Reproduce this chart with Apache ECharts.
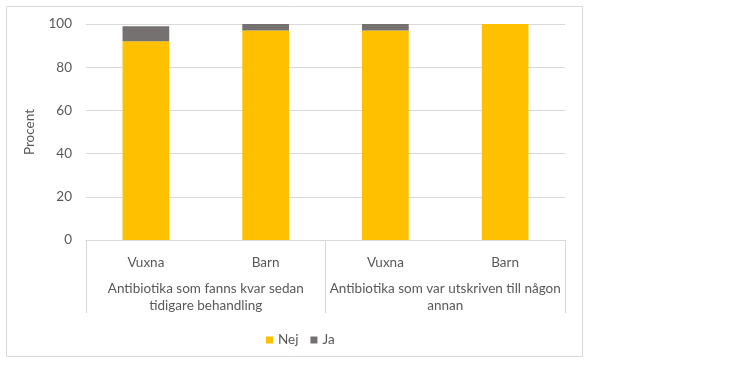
<!DOCTYPE html>
<html><head><meta charset="utf-8">
<script src="https://cdn.jsdelivr.net/npm/echarts@6/dist/echarts.min.js"></script>
<style>html,body{margin:0;padding:0;background:#fff}#c{width:748px;height:368px}</style>
</head><body><div id="c"></div>
<script>
const categories = ['Vuxna', 'Barn', 'Vuxna', 'Barn'];
const groups = ['Antibiotika som fanns kvar sedan\ntidigare behandling', 'Antibiotika som var utskriven till någon\nannan'];
const nej = [92, 97, 97, 100];
const ja = [7, 3, 3, 0];
const yTicks = [0, 20, 40, 60, 80, 100];

const FONT = 'Lato';
const TXT = '#595959';
const FS = 13.5;
const chart = echarts.init(document.getElementById('c'), null, {renderer: 'canvas'});
chart.setOption({
  animation: false,
  textStyle: {fontFamily: FONT},
  graphic: [{type: 'rect', shape: {x: 6.5, y: 6.5, width: 576, height: 350}, style: {fill: 'none', stroke: '#d9d9d9', lineWidth: 1}, z: -1}],
  grid: {left: 86, right: 183, top: 24, bottom: 128},
  legend: {
    data: ['Nej', 'Ja'], left: 261, top: 328, itemWidth: 7, itemHeight: 7, itemGap: 12,
    icon: 'rect', textStyle: {color: TXT, fontSize: FS, fontFamily: FONT}
  },
  xAxis: [
    {type: 'category', data: categories, position: 'bottom',
     axisLine: {lineStyle: {color: '#d9d9d9'}}, axisTick: {show: false},
     axisLabel: {interval: 0, color: TXT, fontSize: FS, margin: 16, fontFamily: FONT}},
    {type: 'category', data: groups, position: 'bottom', offset: 0,
     axisLine: {show: false},
     axisTick: {show: true, length: 73, lineStyle: {color: '#d9d9d9'}},
     axisLabel: {interval: 0, color: TXT, fontSize: FS, margin: 40, lineHeight: 17, fontFamily: FONT}}
  ],
  yAxis: {type: 'value', min: 0, max: 100, interval: 20,
    name: 'Procent', nameLocation: 'middle', nameRotate: 90, nameGap: 49,
    nameTextStyle: {color: TXT, fontSize: FS, fontFamily: FONT},
    axisLabel: {color: TXT, fontSize: FS, margin: 14, fontFamily: FONT},
    splitLine: {lineStyle: {color: '#d9d9d9'}}, axisLine: {show: false}, axisTick: {show: false}},
  series: [
    {name: 'Nej', type: 'bar', stack: 's', data: nej, barWidth: '39%', itemStyle: {color: '#FFC000'}},
    {name: 'Ja', type: 'bar', stack: 's', data: ja, barWidth: '39%', itemStyle: {color: '#767171'}}
  ]
});
</script></body></html>
